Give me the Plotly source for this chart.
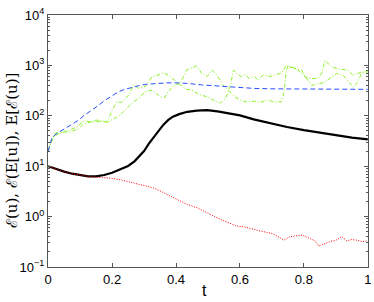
import plotly.graph_objects as go

# Black solid: E(u)
t_black = [0, 0.025, 0.05, 0.075, 0.1, 0.125, 0.15, 0.175, 0.2, 0.225, 0.25, 0.27, 0.285, 0.3,
           0.315, 0.33, 0.345, 0.36, 0.375, 0.39, 0.41, 0.435, 0.465, 0.497, 0.53, 0.57, 0.6,
           0.643, 0.7, 0.747, 0.8, 0.851, 0.9, 0.95, 1.0]
v_black = [10, 8.7, 7.8, 7.1, 6.6, 6.3, 6.3, 6.7, 7.4, 8.5, 10.1, 12.5, 15.5, 20,
           28, 38, 51, 66, 82, 96, 108, 120, 127, 130, 122, 112, 102,
           85, 70, 60, 52, 46, 41, 37, 34]

# Red dotted: E(E[u])
t_red = [0, 0.025, 0.05, 0.075, 0.1, 0.125, 0.14, 0.17, 0.195, 0.23, 0.267, 0.3, 0.33, 0.36,
         0.39, 0.41, 0.435, 0.466, 0.497, 0.52, 0.539, 0.565, 0.59, 0.61, 0.627, 0.65, 0.674,
         0.69, 0.705, 0.72, 0.737, 0.757, 0.775, 0.794, 0.81, 0.82, 0.835, 0.846, 0.865, 0.882,
         0.9, 0.919, 0.934, 0.95, 0.966, 0.98, 1.0]
v_red = [10, 8.7, 7.8, 7.1, 6.6, 6.3, 6.1, 5.9, 5.8, 5.3, 4.7, 4.2, 3.7, 3.0,
         2.4, 2.1, 1.74, 1.5, 1.19, 1.0, 0.88, 0.75, 0.65, 0.63, 0.59, 0.55, 0.50,
         0.48, 0.45, 0.40, 0.34, 0.40, 0.41, 0.43, 0.39, 0.37, 0.33, 0.26, 0.29, 0.32,
         0.34, 0.40, 0.33, 0.35, 0.34, 0.32, 0.33]

# Blue dashed: E[E(u)]
t_blue = [0, 0.012, 0.03, 0.054, 0.075, 0.096, 0.115, 0.137, 0.158, 0.179, 0.2, 0.22, 0.24,
          0.262, 0.283, 0.304, 0.335, 0.37, 0.4, 0.435, 0.48, 0.54, 0.6, 0.643, 0.7, 0.8, 0.9, 1.0]
v_blue = [20, 37, 46, 56, 68, 83, 105, 130, 165, 205, 250, 300, 335,
          367, 395, 420, 440, 450, 450, 440, 410, 385, 365, 350, 343, 338, 336, 335]

# Green dash-dot: two sample realisations
t_g1 = [0, 0.01, 0.02, 0.035, 0.05, 0.065, 0.08, 0.095, 0.105, 0.12, 0.135, 0.15, 0.165, 0.18,
        0.19, 0.2, 0.215, 0.23, 0.252, 0.267, 0.283, 0.304, 0.325, 0.345, 0.36, 0.375, 0.39,
        0.4, 0.413, 0.43, 0.45, 0.476, 0.5, 0.516, 0.538, 0.555, 0.57, 0.58, 0.59, 0.605,
        0.615, 0.63, 0.645, 0.657, 0.673, 0.694, 0.71, 0.73, 0.745, 0.755, 0.772, 0.79, 0.803,
        0.824, 0.845, 0.855, 0.866, 0.876, 0.887, 0.907, 0.923, 0.938, 0.954, 0.98, 1.0]
v_g1 = [20, 33, 44, 48, 47, 52, 56, 62, 75, 78, 74, 82, 80, 76,
        90, 130, 190, 185, 260, 410, 350, 380, 600, 650, 720, 640, 540,
        480, 420, 340, 320, 260, 235, 205, 178, 220, 400, 810, 680, 600,
        650, 550, 600, 510, 650, 600, 650, 700, 1000, 900, 930, 700, 590,
        545, 560, 690, 1260, 1080, 930, 860, 840, 800, 635, 740, 740]

t_g2 = [0, 0.01, 0.02, 0.035, 0.05, 0.065, 0.08, 0.095, 0.11, 0.125, 0.14, 0.158, 0.17, 0.185,
        0.2, 0.215, 0.231, 0.247, 0.262, 0.283, 0.304, 0.325, 0.35, 0.365, 0.375, 0.39, 0.4,
        0.413, 0.433, 0.45, 0.465, 0.48, 0.497, 0.512, 0.527, 0.547, 0.569, 0.585, 0.605,
        0.622, 0.645, 0.665, 0.685, 0.71, 0.73, 0.738, 0.745, 0.752, 0.772, 0.793, 0.809,
        0.824, 0.845, 0.866, 0.887, 0.902, 0.923, 0.944, 0.954, 0.965, 0.98, 1.0]
v_g2 = [20, 30, 40, 45, 50, 47, 50, 55, 68, 72, 78, 76, 78, 74,
        83, 95, 112, 140, 178, 225, 300, 325, 240, 230, 300, 380, 420,
        440, 810, 900, 980, 700, 600, 810, 650, 410, 297, 235, 200,
        187, 195, 185, 205, 187, 190, 300, 800, 1000, 860, 800, 545,
        400, 430, 465, 590, 690, 635, 430, 370, 430, 690, 800]

x_ticks = [0, 0.2, 0.4, 0.6, 0.8, 1]
x_labels = ["0", "0.2", "0.4", "0.6", "0.8", "1"]
y_ticks = [0.1, 1, 10, 100, 1000, 10000]
y_labels = ["10<sup>−1</sup>", "10<sup>0</sup>", "10<sup>1</sup>", "10<sup>2</sup>",
            "10<sup>3</sup>", "10<sup>4</sup>"]
x_title = "t"
y_title = "ℰ(u), ℰ(E[u]), E[ℰ(u)]"

fig = go.Figure()
fig.add_trace(go.Scatter(x=t_g1, y=v_g1, mode="lines",
                         line=dict(color="rgb(140,240,40)", width=1, dash="4px,2px,1px,2px")))
fig.add_trace(go.Scatter(x=t_g2, y=v_g2, mode="lines",
                         line=dict(color="rgb(140,240,40)", width=1, dash="4px,2px,1px,2px")))
fig.add_trace(go.Scatter(x=t_blue, y=v_blue, mode="lines",
                         line=dict(color="rgb(40,80,255)", width=1, dash="5px,3px")))
fig.add_trace(go.Scatter(x=t_black, y=v_black, mode="lines",
                         line=dict(color="black", width=2.2)))
fig.add_trace(go.Scatter(x=t_red, y=v_red, mode="lines",
                         line=dict(color="red", width=1, dash="1px,1.5px")))

axis_common = dict(showline=True, linecolor="#555", linewidth=1, mirror="allticks",
                   ticks="inside", ticklen=4, tickcolor="#555", showgrid=False, zeroline=False,
                   automargin=False,
                   tickfont=dict(family="Liberation Sans, Arial", size=13, color="black"))

fig.update_layout(
    width=374, height=302,
    margin=dict(l=48, r=6, t=15, b=35),
    paper_bgcolor="white", plot_bgcolor="white",
    showlegend=False,
    xaxis=dict(range=[-0.0005, 1.0005], tickvals=x_ticks, ticktext=x_labels, **axis_common),
    yaxis=dict(type="log", range=[-1, 4], tickvals=y_ticks, ticktext=y_labels,
               minor=dict(ticks="inside", ticklen=2, tickcolor="#555", dtick="D1", showgrid=False),
               **axis_common),
    annotations=[
        dict(text=x_title, xref="paper", yref="paper", x=0.49, y=0, yshift=-13,
             xanchor="center", yanchor="top", showarrow=False,
             font=dict(family="Liberation Sans, Arial", size=16, color="black")),
        dict(text=y_title, xref="paper", yref="paper", x=0, xshift=-25, y=0.46,
             xanchor="right", yanchor="middle", textangle=-90, showarrow=False,
             font=dict(family="DejaVu Serif", size=15, color="black")),
    ],
)

fig.write_html("out.html", config={"displayModeBar": False},
               post_script="document.body.style.margin='0';document.body.style.overflow='hidden';")
